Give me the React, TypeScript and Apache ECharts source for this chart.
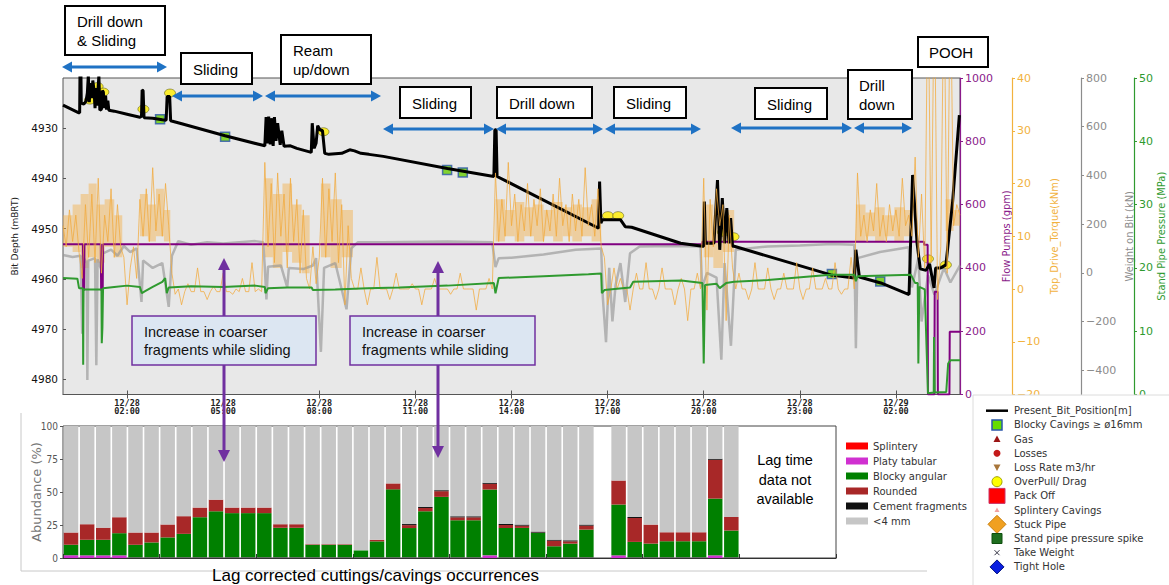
import React, { useEffect, useRef } from "react";
import * as echarts from "echarts";

// ---------- fonts ----------
const FONT_ARIAL = "'Liberation Sans', Arial, sans-serif";
const FONT_DV = "'DejaVu Sans', sans-serif";
const FONT_NARROW = "'Liberation Sans Narrow', 'DejaVu Sans Condensed', 'Liberation Sans', sans-serif";
const FONT_MONO = "'DejaVu Sans Mono', monospace";

// ---------- time axis (hours since 12/28 00:00) ----------
const timeMin = 0;
const timeMax = 28;
const timeTicks = [2, 5, 8, 11, 14, 17, 20, 23, 26];

const depthTicks = [4930, 4940, 4950, 4960, 4970, 4980];
const wobTicks = [-400, -200, 0, 200, 400, 600, 800];

// Present bit position [hour, depth mBRT]
const bitPosition: [number, number][] = [
  [0, 4925.4], [0.48, 4926.9], [0.52, 4926.9], [0.53, 4919], [0.56, 4919], [0.57, 4925.0],
  [0.65, 4925.2], [0.72, 4924.6], [0.76, 4923.0], [0.79, 4919.5], [0.82, 4924.8], [0.86, 4921.0],
  [0.9, 4924.0], [0.93, 4920.5], [0.97, 4922.5], [1.0, 4926.0], [1.03, 4922.0], [1.06, 4925.5],
  [1.1, 4921.5], [1.12, 4919.5], [1.15, 4926.4], [1.2, 4926.2], [1.23, 4922.5], [1.26, 4922.8],
  [1.29, 4926.0], [1.33, 4923.5], [1.36, 4926.3], [1.4, 4924.5], [1.43, 4926.4], [1.6, 4926.6],
  [2.0, 4927.2], [2.4, 4927.8], [2.45, 4927.6], [2.47, 4922.4], [2.5, 4922.5], [2.53, 4927.9],
  [2.8, 4928.0], [3.1, 4928.3], [3.22, 4928.4], [3.25, 4923.7], [3.33, 4923.7], [3.36, 4928.5],
  [3.65, 4929.0], [5.06, 4931.5], [6.3, 4933.5], [6.34, 4927.8], [6.38, 4933.0], [6.42, 4927.7],
  [6.47, 4933.2], [6.5, 4928.0], [6.56, 4933.5], [6.6, 4927.8], [6.65, 4932.5], [6.7, 4929.0],
  [6.78, 4933.3], [6.83, 4930.5], [6.9, 4933.6], [7.1, 4933.5], [7.3, 4934.0], [7.75, 4934.8],
  [7.78, 4929.0], [7.84, 4934.0], [7.9, 4933.0], [7.95, 4929.5], [8.02, 4930.3], [8.1, 4930.5],
  [8.17, 4935.0], [8.3, 4935.2], [8.7, 4935.0], [8.95, 4934.3], [9.1, 4934.5], [9.3, 4935.0],
  [9.55, 4935.2], [10.0, 4935.6], [12.0, 4938.0], [13.45, 4939.6], [13.48, 4930.3], [13.52, 4930.3],
  [13.55, 4939.6], [16.72, 4949.9], [16.75, 4940.6], [16.79, 4948.9], [16.84, 4948.2], [17.4, 4948.2],
  [17.55, 4949.6], [17.75, 4949.7], [19.28, 4952.9], [19.96, 4953.5], [20.0, 4953.5], [20.02, 4944.6],
  [20.05, 4952.9], [20.32, 4952.9], [20.43, 4940.3], [20.5, 4954.2], [20.58, 4943.9], [20.65, 4952.9],
  [20.72, 4945.9], [20.79, 4952.9], [20.84, 4947.9], [20.9, 4953.5], [20.95, 4953.5], [23.97, 4959.2],
  [24.7, 4959.8], [24.75, 4954.2], [24.86, 4959.6], [25.53, 4960.8], [26.41, 4963.1], [26.52, 4939.3],
  [26.66, 4952.9], [26.76, 4958.0], [26.94, 4958.3], [27.05, 4957.0], [27.19, 4961.8], [27.24, 4957.8],
  [27.4, 4957.8], [27.56, 4957.2], [27.77, 4944.6], [27.98, 4927.4],
];

// Events [hour, depth]
const overPull: [number, number][] = [
  [0.84, 4924.4], [1.08, 4921.7], [1.26, 4922.8], [2.51, 4926.2], [3.34, 4923.0], [8.13, 4930.7],
  [17.01, 4947.4], [17.33, 4947.4], [20.6, 4950.7], [20.93, 4951.6], [27.0, 4956.0], [27.56, 4957.2],
];
const blockyCavings: [number, number][] = [
  [3.03, 4928.2], [5.06, 4931.7], [11.99, 4938.3], [12.48, 4938.8], [24.0, 4959.0], [25.51, 4960.5],
];

// Flow pumps [hour, gpm]
const flowPumps: [number, number][] = [
  [0, 475], [0.62, 475], [0.63, 330], [0.66, 330], [0.67, 475], [1.18, 475], [1.19, 330], [1.24, 330],
  [1.25, 475], [19.95, 475], [19.96, 483], [26.87, 483], [26.88, 473], [26.99, 473], [27.0, 0],
  [27.2, 0], [27.21, 325], [27.3, 325], [27.31, 0], [27.67, 0], [27.68, 198], [28, 198],
];

// Top drive torque, kNm, sampled every 0.1 h from 12/28 00:00
const torqueStep = 0.1;
const torqueSamples: number[] = [
  12, 8, 15, 9, 14, 7, 2, 16, 6, 18, 5, 21, 3, 14, 9, 19, 6, 16, 8,
  6, -3, 4, 8, 2,
  17, 10, 19, 9, 23, 11, 18, 10, 20, 12,
  3, -1, 0, -3, -0.5, 1, -0.5, -0.5, 4, -0.5, -0.5, -2, -0.5, 0.5, -0.5, -0.5, 3, -0.5, -0.5, -1,
  0, -0.5, 2, -0.5, -0.5, 5, -0.5, 0, -0.5,
  24, 8, 20, 5, 22, 10, 18, 4, 21, 9, 17, 3, 15, 2, 0, 8, 1, 6, 21, 6, 19, 9, 22, 5, 16, -3, 12, 2,
  0, 0, 4, 0, -3, 0, 0, 6, 0, 0, 0, -2, 0, 3, 0, 0, 0, 0, 1, 0, 0, -3, 0, 0, 0, 2, 0, 0, 0, 0,
  -1, 0, 0, 3, 0, 0, 0, 0, -4, 0, 0, 0, 2, 0,
  22, 9, 17, 10, 24, 12, 18, 9, 16, 11, 20, 10, 17, 12, 19, 9, 15, 11, 18, 10, 21, 12, 16, 9, 18, 11,
  17, 10, 23, 12, 16, 10, 19, 8,
  6, -3, 0, 4, 0, 2, 0, 0, -4, 0, 3, 0, 0, 5, 0, 0, -2, 0, 4, 0, 0, 0, -3, 0, 2, 0, -6, 0, 0, 3, 0,
  21, -4, 17, 8, 19, 12, 16, -6, 14, 4,
  0, 3, 0, 0, -2, 0, 5, 0, 0, 0, 4, 0, -2, 0, 0, 3, 0, 0, 0, 5, 0, -2, 0, 0, 4, 0, 0, 0, 2, 0,
  0, 5, 0, -1, 0, 0, 6, 0,
  22, 10, 14, 9, 15, 11, 20, 10, 14, 9, 16, 11, 15, 10, 21, 12, 14, 10,
  25, 6, 18, 4,
  60, 5, 60, -2, 8, 60, 3, 60, 12, 16, 14,
];

// Dense part of the torque trace while rotating: [from h, to h, low kNm, high kNm]
const torqueBand: [number, number, number, number][] = [
  [0, 0.3, 8, 14], [0.3, 0.55, 7, 16], [0.55, 0.8, 4, 18], [0.8, 1.05, 6, 20], [1.05, 1.3, 5, 16],
  [1.3, 1.6, 8, 17], [1.6, 1.85, 6, 14],
  [2.4, 2.65, 10, 18], [2.65, 2.9, 9, 16], [2.9, 3.15, 10, 19], [3.15, 3.35, 9, 15],
  [6.3, 6.55, 6, 21], [6.55, 6.85, 4, 18], [6.85, 7.15, 7, 20], [7.15, 7.45, 5, 16], [7.45, 7.7, 3, 14],
  [8.05, 8.35, 6, 20], [8.35, 8.7, 4, 17], [8.7, 9.05, 6, 15],
  [13.5, 13.8, 9, 17], [13.8, 14.1, 10, 15], [14.1, 14.4, 9, 16.5], [14.4, 14.7, 10, 15.5],
  [14.7, 15.0, 9, 16], [15.0, 15.3, 10, 15], [15.3, 15.6, 9, 16.5], [15.6, 15.9, 10, 15.5],
  [15.9, 16.2, 9, 16], [16.2, 16.5, 10, 15.5], [16.5, 16.8, 9, 17],
  [20.0, 20.3, 6, 16], [20.3, 20.6, 4, 14], [20.6, 20.95, 7, 15],
  [24.75, 25.05, 9, 16], [25.05, 25.35, 10, 14.5], [25.35, 25.65, 9, 15.5], [25.65, 25.95, 10, 14],
  [25.95, 26.25, 9, 15.5], [26.25, 26.5, 10, 15],
  [27.55, 27.8, 11, 17], [27.8, 28, 12, 15],
];

// Weight on bit [hour, kN]
const weightOnBit: [number, number][] = [
  [0, 73], [0.3, 65], [0.55, 70], [0.6, -250], [0.65, 60], [0.74, 40], [0.76, -440], [0.79, 50],
  [1.0, 60], [1.04, -380], [1.08, 55], [1.2, 10], [1.25, 80], [1.5, 95], [1.7, 70], [1.9, 110],
  [2.1, 85], [2.3, 100], [2.45, -120], [2.5, 50], [2.8, 20], [3.1, 40], [3.3, -140], [3.4, 70],
  [3.6, 130], [4.0, 115], [4.5, 125], [5.0, 120], [5.5, 125], [6.0, 130], [6.25, 125], [6.3, 20],
  [6.35, -110], [6.4, 25], [6.8, 30], [7.0, -60], [7.05, 20], [7.5, 15], [7.8, 30], [7.9, 60],
  [8.05, -325], [8.15, 20], [8.5, 40], [8.85, -150], [9.0, 100], [9.2, 125], [10.0, 125],
  [12.0, 128], [13.4, 125], [13.5, 23], [13.6, 60], [14.0, 62], [15.0, 75], [16.0, 95], [16.8, 100],
  [16.85, -100], [16.95, -285], [17.05, 20], [17.15, -200], [17.25, -50], [17.4, 40], [17.55, -120],
  [17.7, 80], [18.0, 108], [19.0, 110], [19.9, 108], [19.95, -60], [20.1, 0], [20.4, -20],
  [20.55, -357], [20.65, 40], [20.85, -300], [21.0, 95], [22.0, 108], [23.0, 112], [24.0, 118],
  [24.7, 115], [24.75, -310], [24.8, 60], [25.5, 85], [26.4, 105], [26.5, -60], [26.7, 60],
  [26.8, -200], [27.0, -10], [27.2, -90], [27.5, 20], [27.7, -40], [28.0, 30],
];

// Stand pipe pressure [hour, MPa]
const standPipePressure: [number, number][] = [
  [0, 18.4], [0.45, 18.3], [0.5, 16.8], [0.62, 16.8], [0.63, 4.7], [0.64, 16.6], [1.0, 16.6],
  [1.2, 16.6], [1.21, 8.1], [1.23, 10.5], [1.25, 16.8], [1.6, 17.0], [2.0, 17.2], [2.4, 17.0],
  [2.46, 16.0], [2.55, 16.3], [2.8, 17.0], [3.1, 17.8], [3.19, 18.4], [3.24, 16.0], [3.3, 16.9],
  [4.0, 17.1], [5.0, 17.0], [6.0, 17.2], [6.3, 17.0], [6.32, 16.0], [6.4, 16.8], [7.0, 16.9],
  [7.76, 16.9], [7.8, 16.5], [8.5, 16.6], [9.5, 16.8], [10.5, 16.9], [12.0, 17.2], [13.45, 17.6],
  [13.5, 16.0], [13.6, 18.4], [15.0, 18.7], [16.4, 19.0], [16.8, 19.1], [16.82, 16.0], [16.9, 16.5],
  [17.7, 16.9], [17.8, 17.8], [19.3, 18.0], [19.96, 17.6], [20.0, 4.9], [20.04, 17.3], [20.4, 17.5],
  [20.5, 16.8], [20.7, 17.6], [20.95, 17.8], [22.0, 18.1], [23.96, 18.9], [24.7, 18.9], [24.75, 17.9],
  [24.8, 18.7], [26.47, 18.9], [26.6, 17.6], [26.68, 17.6], [26.7, 4.9], [26.73, 17.0], [26.9, 16.6],
  [27.0, 0.2], [27.18, 0.3], [27.19, 9.1], [27.21, 0.3], [27.57, 0.4], [27.63, 4.9], [27.7, 5.4],
  [28, 5.4],
];

// ---------- lag corrected cuttings / cavings (% per half-hour sample) ----------
const lagSlotCount = 48;
const platyTabular: (number | null)[] = [
  2, 2, 2, 2, 0.4, 0.4, 0.4, 0.4, 0.4, 0.4, 0.4, 0.4, 0.4, 0.4, 0.4, 0.4, 0.4, 0.4, 0.4, 0.4,
  0.4, 0.4, 0.4, 0.4, 0.4, 0.4, 2, 0.4, 0.4, 0.4, 0.4, 0.4, 0.4, null, 2, 0.4, 0.4, 0.4, 0.4, 0.4,
  2, 0.4,
];
const blockyAngular: (number | null)[] = [
  8, 11.8, 11.8, 16.8, 9.6, 11.4, 15.2, 17.9, 30.5, 35, 33.6, 33.6, 33.6, 22.5, 22.5, 9.6, 9.6, 9.6,
  5.4, 12.2, 51.6, 22.3, 35, 45.9, 28.2, 28.2, 49.9, 22.4, 22.4, 18.6, 8.5, 10.5, 21.1, null, 38.5,
  11.8, 10.5, 12.3, 12.3, 12.3, 43, 20.4,
];
const roundedFrag: (number | null)[] = [
  9.3, 11.8, 9.2, 12.1, 9.3, 7.5, 9.8, 13.4, 7.3, 8.8, 4.2, 4.2, 4.2, 2.7, 2.7, 0.5, 0.5, 0.5, 0,
  1.2, 4.5, 2.2, 2.5, 4.3, 2.2, 2.2, 4.3, 2.2, 1.7, 0.2, 4.2, 1.7, 3, null, 18.2, 18.1, 14.4, 6.8,
  6.8, 6.8, 29.4, 10.3,
];
const cementFrag: (number | null)[] = [
  0, 0, 0, 0, 0, 0, 0, 0, 0, 0, 0, 0, 0, 0, 0, 0, 0, 0, 0, 0, 0, 0.8, 0.8, 0.8, 0.8, 0.8, 0.8, 0.8,
  0.8, 0.8, 0.8, 0.8, 0.8, null, 0, 0.8, 0, 0, 0, 0, 0.8, 0,
];
const splinteryFrag: (number | null)[] = [
  0, 0, 0, 0, 0, 0, 0, 0, 0, 0, 0, 0, 0, 0, 0, 0, 0, 0, 0, 0, 0, 0, 0, 0, 0, 0, 0, 0, 0, 0, 0, 0, 0,
  null, 0, 0, 0, 0, 0, 0, 0, 0,
];

// ---------- colours ----------
const C_FLOW = "#8a1a8a";
const C_TORQUE = "#f2b23e";
const C_WOB = "#8c8c8c";
const C_SPP = "#2f9a2f";
const C_ARROW = "#1f72c4";
const C_CALLOUT = "#7030a0";

const fmtSigned = (v: number) => (v < 0 ? "\u2212" + Math.abs(v) : String(v));
const fmtTime = (v: number) => {
  const day = 28 + Math.floor(v / 24);
  const hh = Math.round(v % 24);
  return `12/${day}\n${String(hh).padStart(2, "0")}:00`;
};

function rightAxis(
  name: string,
  color: string,
  offset: number,
  min: number,
  max: number,
  nameGap: number,
  interval?: number,
  ticks?: number[]
) {
  const label: any = { color, fontSize: 11, fontFamily: FONT_DV, margin: 5, formatter: fmtSigned };
  const tick: any = { show: true, length: 3, lineStyle: { color } };
  if (ticks) {
    label.customValues = ticks;
    tick.customValues = ticks;
  }
  return {
    type: "value",
    gridIndex: 0,
    position: "right",
    offset,
    min,
    max,
    interval,
    name,
    nameLocation: "middle",
    nameGap,
    nameRotate: 90,
    nameMoveOverlap: false,
    nameTextStyle: { color, fontSize: 11, fontFamily: FONT_NARROW },
    axisLine: { show: true, onZero: false, lineStyle: { color, width: 1.2 } },
    axisTick: tick,
    axisLabel: label,
    splitLine: { show: false },
  };
}

// ---------- annotation helpers ----------
function doubleArrow(x1: number, x2: number, y: number) {
  const head = 10;
  const half = 5.5;
  return [
    { type: "line", z: 50, shape: { x1: x1 + head - 2, y1: y, x2: x2 - head + 2, y2: y }, style: { stroke: C_ARROW, lineWidth: 3 } },
    { type: "polygon", z: 50, shape: { points: [[x1, y], [x1 + head, y - half], [x1 + head, y + half]] }, style: { fill: C_ARROW } },
    { type: "polygon", z: 50, shape: { points: [[x2, y], [x2 - head, y - half], [x2 - head, y + half]] }, style: { fill: C_ARROW } },
  ];
}

function phaseBox(x: number, y: number, w: number, h: number, text: string, tx: number, ty: number) {
  return [
    { type: "rect", z: 50, shape: { x, y, width: w, height: h }, style: { fill: "#fff", stroke: "#000", lineWidth: 2 } },
    {
      type: "text",
      z: 51,
      x: tx,
      y: ty,
      style: { text, fill: "#000", font: `15px ${FONT_ARIAL}`, lineHeight: 19, align: "left", verticalAlign: "middle" },
    },
  ];
}

function vArrow(x: number, y1: number, tip: number) {
  const head = 12;
  const half = 6;
  const dir = tip > y1 ? 1 : -1;
  const base = tip - dir * head;
  return [
    { type: "line", z: 60, shape: { x1: x, y1, x2: x, y2: base + dir }, style: { stroke: C_CALLOUT, lineWidth: 3 } },
    { type: "polygon", z: 60, shape: { points: [[x, tip], [x - half, base], [x + half, base]] }, style: { fill: C_CALLOUT } },
  ];
}

function callout(x: number, y: number, w: number, h: number, tx: number, arrowX: number, upTip: number, downTip: number) {
  return [
    ...vArrow(arrowX, y, upTip),
    ...vArrow(arrowX, y + h, downTip),
    { type: "rect", z: 61, shape: { x, y, width: w, height: h }, style: { fill: "#dce6f2", stroke: C_CALLOUT, lineWidth: 1.5 } },
    {
      type: "text",
      z: 62,
      x: tx,
      y: y + h / 2 + 0.5,
      style: {
        text: "Increase in coarser\nfragments while sliding",
        fill: "#111",
        font: `14.5px ${FONT_ARIAL}`,
        lineHeight: 17.5,
        align: "left",
        verticalAlign: "middle",
      },
    },
  ];
}

// event legend entries drawn next to the depth chart
const eventLegendNames = [
  "Present_Bit_Position[m]",
  "Blocky Cavings \u2265 \u00f816mm",
  "Gas",
  "Losses",
  "Loss Rate m3/hr",
  "OverPull/ Drag",
  "Pack Off",
  "Splintery Cavings",
  "Stuck Pipe",
  "Stand pipe pressure spike",
  "Take Weight",
  "Tight Hole",
];

function eventMarker(i: number, cx: number, y: number): any[] {
  const diamond = (r: number) => [[cx, y - r], [cx + r, y], [cx, y + r], [cx - r, y]];
  switch (i) {
    case 0:
      return [{ type: "line", shape: { x1: cx - 11, y1: y, x2: cx + 11, y2: y }, style: { stroke: "#000", lineWidth: 2.5 } }];
    case 1:
      return [{ type: "rect", shape: { x: cx - 5, y: y - 5, width: 10, height: 10 }, style: { fill: "#66dd00", stroke: "#2a55aa", lineWidth: 1.5 } }];
    case 2:
      return [{ type: "polygon", shape: { points: [[cx, y - 3.5], [cx - 3.5, y + 3], [cx + 3.5, y + 3]] }, style: { fill: "#9b1414" } }];
    case 3:
      return [{ type: "circle", shape: { cx, cy: y, r: 3.5 }, style: { fill: "#c41a1a" } }];
    case 4:
      return [{ type: "polygon", shape: { points: [[cx - 3.5, y - 3], [cx + 3.5, y - 3], [cx, y + 3.5]] }, style: { fill: "#a8763a" } }];
    case 5:
      return [{ type: "circle", shape: { cx, cy: y, r: 5 }, style: { fill: "#ffff00", stroke: "#a0a000", lineWidth: 1 } }];
    case 6:
      return [{ type: "rect", shape: { x: cx - 8, y: y - 7.5, width: 16, height: 15 }, style: { fill: "#ff0000", stroke: "#cc3366", lineWidth: 1 } }];
    case 7:
      return [{ type: "polygon", shape: { points: [[cx, y - 2.5], [cx - 2.5, y + 2], [cx + 2.5, y + 2]] }, style: { fill: "#f0a0a0" } }];
    case 8:
      return [{ type: "polygon", shape: { points: diamond(9) }, style: { fill: "#f0a020", stroke: "#c88010", lineWidth: 1 } }];
    case 9:
      return [{ type: "rect", shape: { x: cx - 5, y: y - 5, width: 10, height: 10 }, style: { fill: "#1e6e1e", stroke: "#0e4e0e", lineWidth: 1 } }];
    case 10:
      return [
        { type: "line", shape: { x1: cx - 2.5, y1: y - 2.5, x2: cx + 2.5, y2: y + 2.5 }, style: { stroke: "#334", lineWidth: 1 } },
        { type: "line", shape: { x1: cx - 2.5, y1: y + 2.5, x2: cx + 2.5, y2: y - 2.5 }, style: { stroke: "#334", lineWidth: 1 } },
      ];
    default:
      return [{ type: "polygon", shape: { points: diamond(7) }, style: { fill: "#0a1ee0", stroke: "#001080", lineWidth: 1 } }];
  }
}

function eventLegend() {
  const items: any[] = [
    { type: "rect", z: 80, shape: { x: 973, y: 395, width: 200, height: 195 }, style: { fill: "#fff", stroke: "#dcdcdc", lineWidth: 1 } },
  ];
  eventLegendNames.forEach((name, i) => {
    const y = 410.7 + i * 14.2;
    eventMarker(i, 997, y).forEach((m) => items.push({ ...m, z: 81 }));
    items.push({
      type: "text",
      z: 81,
      x: 1014,
      y,
      style: { text: name, fill: "#333", font: `10px ${FONT_DV}`, align: "left", verticalAlign: "middle" },
    });
  });
  return items;
}

function buildOption() {
  const torque = torqueSamples.map((v, i) => [Math.round(i * torqueStep * 10) / 10, v]);
  const slots = Array.from({ length: lagSlotCount }, (_, i) => String(i));
  const fineFrag = platyTabular.map((p, i) =>
    p == null
      ? null
      : Math.max(
          0,
          100 - (p + (blockyAngular[i] || 0) + (roundedFrag[i] || 0) + (cementFrag[i] || 0) + (splinteryFrag[i] || 0))
        )
  );

  const barBase = {
    type: "bar",
    xAxisIndex: 2,
    yAxisIndex: 5,
    stack: "lag",
    barCategoryGap: "10%",
    silent: true,
  };

  return {
    animation: false,
    backgroundColor: "#fff",
    grid: [
      {
        left: 63, top: 78, width: 897, height: 316.5, show: true, backgroundColor: "#e8e8e8",
        borderColor: "#555", borderWidth: 1, outerBoundsMode: "none", containLabel: false,
      },
      {
        left: 63, top: 426, width: 773, height: 132, show: true, backgroundColor: "#fff",
        borderColor: "#444", borderWidth: 1, outerBoundsMode: "none", containLabel: false,
      },
    ],
    xAxis: [
      {
        type: "value",
        gridIndex: 0,
        min: timeMin,
        max: timeMax,
        position: "bottom",
        axisLine: { show: true, onZero: false, lineStyle: { color: "#555" } },
        axisTick: { show: true, inside: true, length: 4, customValues: timeTicks, lineStyle: { color: "#555" } },
        axisLabel: {
          customValues: timeTicks,
          formatter: fmtTime,
          fontSize: 8.5,
          lineHeight: 8.5,
          fontFamily: FONT_MONO,
          fontWeight: "bold",
          color: "#222",
          margin: 4,
        },
        splitLine: { show: false },
      },
      {
        type: "value",
        gridIndex: 0,
        min: timeMin,
        max: timeMax,
        position: "top",
        axisLine: { show: false },
        axisTick: { show: true, inside: true, length: 4, customValues: timeTicks, lineStyle: { color: "#555" } },
        axisLabel: { show: false },
        splitLine: { show: false },
      },
      {
        type: "category",
        gridIndex: 1,
        position: "top",
        data: slots,
        axisLine: { show: true, lineStyle: { color: "#333", width: 1.2 } },
        axisTick: { show: true, interval: 5, length: 4, lineStyle: { color: "#333" } },
        axisLabel: { show: false },
        splitLine: { show: false },
      },
    ],
    yAxis: [
      {
        type: "value",
        gridIndex: 0,
        inverse: true,
        min: 4920,
        max: 4983,
        name: "Bit Depth (mBRT)",
        nameLocation: "middle",
        nameGap: 44,
        nameMoveOverlap: false,
        nameTextStyle: { color: "#222", fontSize: 9, fontFamily: FONT_DV },
        axisLine: { show: false },
        axisTick: { show: true, inside: true, length: 3, customValues: depthTicks, lineStyle: { color: "#555" } },
        axisLabel: {
          customValues: depthTicks,
          formatter: (v: number) => String(v),
          color: "#111",
          fontSize: 10.5,
          fontFamily: FONT_DV,
          margin: 5,
        },
        splitLine: { show: false },
      },
      rightAxis("Flow Pumps (gpm)", C_FLOW, 0, 0, 1000, 41, 200),
      rightAxis("Top_Drive_Torque(kNm)", C_TORQUE, 52, -20, 40, 37, 10),
      rightAxis("Weight on Bit (kN)", C_WOB, 121, -500, 800, 43, undefined, wobTicks),
      rightAxis("Stand Pipe Pressure (MPa)", C_SPP, 174, 0, 50, 22, 10),
      {
        type: "value",
        gridIndex: 1,
        min: 0,
        max: 100,
        interval: 25,
        name: "Abundance (%)",
        nameLocation: "middle",
        nameGap: 20,
        nameMoveOverlap: false,
        nameTextStyle: { color: "#777", fontSize: 13, fontFamily: FONT_DV },
        axisLine: { show: false },
        axisTick: { show: true, length: 3, lineStyle: { color: "#555" } },
        axisLabel: { color: "#555", fontSize: 10, fontFamily: FONT_NARROW, margin: 5 },
        splitLine: { show: false },
      },
    ],
    legend: {
      orient: "vertical",
      left: 841,
      top: 435,
      icon: "rect",
      itemWidth: 22,
      itemHeight: 7,
      itemGap: 3,
      selectedMode: false,
      data: ["Splintery", "Platy tabular", "Blocky angular", "Rounded", "Cement fragments", "<4 mm"],
      textStyle: { fontSize: 10, fontFamily: FONT_DV, color: "#333", lineHeight: 12 },
    },
    series: [
      {
        name: "Weight on Bit",
        type: "line",
        xAxisIndex: 0,
        yAxisIndex: 3,
        data: weightOnBit,
        showSymbol: false,
        lineStyle: { color: "rgba(150,150,150,0.65)", width: 2.5 },
        silent: true,
      },
      {
        name: "Flow Pumps",
        type: "line",
        xAxisIndex: 0,
        yAxisIndex: 1,
        data: flowPumps,
        showSymbol: false,
        lineStyle: { color: "#800080", width: 2 },
        silent: true,
      },
      {
        name: "Present_Bit_Position[m]",
        type: "line",
        xAxisIndex: 0,
        yAxisIndex: 0,
        data: bitPosition,
        showSymbol: false,
        lineStyle: { color: "#000", width: 3 },
        silent: true,
      },
      {
        name: "Torque band",
        type: "custom",
        xAxisIndex: 0,
        yAxisIndex: 2,
        data: torqueBand,
        encode: { x: [0, 1], y: [2, 3] },
        clip: true,
        silent: true,
        renderItem: (params: any, api: any) => {
          const a = api.coord([api.value(0), api.value(3)]);
          const b = api.coord([api.value(1), api.value(2)]);
          return {
            type: "rect",
            shape: { x: a[0], y: a[1], width: b[0] - a[0], height: b[1] - a[1] },
            style: { fill: "rgba(243,176,70,0.45)" },
          };
        },
      },
      {
        name: "Top_Drive_Torque",
        type: "line",
        xAxisIndex: 0,
        yAxisIndex: 2,
        data: torque,
        showSymbol: false,
        lineStyle: { color: "rgba(242,170,60,0.75)", width: 1 },
        silent: true,
      },
      {
        name: "Stand Pipe Pressure",
        type: "line",
        xAxisIndex: 0,
        yAxisIndex: 4,
        data: standPipePressure,
        showSymbol: false,
        lineStyle: { color: C_SPP, width: 2 },
        silent: true,
      },
      {
        name: "OverPull/ Drag",
        type: "scatter",
        xAxisIndex: 0,
        yAxisIndex: 0,
        data: overPull,
        symbol: "circle",
        symbolSize: [11, 8],
        itemStyle: { color: "#ffee00", borderColor: "#6b6b20", borderWidth: 0.8 },
        silent: true,
      },
      {
        name: "Blocky Cavings",
        type: "scatter",
        xAxisIndex: 0,
        yAxisIndex: 0,
        data: blockyCavings,
        symbol: "rect",
        symbolSize: 9,
        itemStyle: { color: "#66cc00", borderColor: "#2a55aa", borderWidth: 1.5 },
        silent: true,
      },
      { ...barBase, name: "Platy tabular", data: platyTabular, itemStyle: { color: "#d030d0" } },
      { ...barBase, name: "Blocky angular", data: blockyAngular, itemStyle: { color: "#008000" } },
      { ...barBase, name: "Rounded", data: roundedFrag, itemStyle: { color: "#a82828" } },
      { ...barBase, name: "Splintery", data: splinteryFrag, itemStyle: { color: "#ff0000" } },
      { ...barBase, name: "Cement fragments", data: cementFrag, itemStyle: { color: "#111" } },
      { ...barBase, name: "<4 mm", data: fineFrag, itemStyle: { color: "#c6c6c6" } },
    ],
    graphic: [
      // faint frame around the cuttings panel
      { type: "polyline", z: 1, shape: { points: [[21, 413], [21, 571], [927, 571]] }, style: { stroke: "#c8c8c8", lineWidth: 1, fill: null } },
      // operation phases
      ...phaseBox(65, 6, 100, 49, "Drill down\n& Sliding", 77, 30.5),
      ...doubleArrow(62, 167, 67),
      ...phaseBox(181, 53, 71, 31, "Sliding", 193, 69),
      ...doubleArrow(172, 263, 96),
      ...phaseBox(281, 35, 90, 49, "Ream\nup/down", 293, 59.5),
      ...doubleArrow(265, 381, 96),
      ...phaseBox(400, 87, 71, 31, "Sliding", 412, 103),
      ...doubleArrow(383, 494, 129),
      ...phaseBox(497, 87, 95, 31, "Drill down", 509, 103),
      ...doubleArrow(496, 603, 129),
      ...phaseBox(614, 87, 72, 31, "Sliding", 626, 103),
      ...doubleArrow(605, 701, 129),
      ...phaseBox(755, 88, 72, 31, "Sliding", 767, 104),
      ...doubleArrow(731, 852, 128),
      ...phaseBox(848, 70, 64, 49, "Drill\ndown", 859, 94.5),
      ...doubleArrow(854, 912, 128),
      ...phaseBox(918, 37, 70, 30, "POOH", 929, 52),
      // callouts linking sliding intervals with the cuttings record
      ...callout(132, 316, 184, 49, 144, 224, 258, 462),
      ...callout(350, 316, 185, 49, 362, 438, 261, 458),
      {
        type: "text",
        z: 50,
        x: 785,
        y: 479.5,
        style: {
          text: "Lag time\ndata not\navailable",
          fill: "#000",
          font: `14.5px ${FONT_ARIAL}`,
          lineHeight: 19.5,
          align: "center",
          verticalAlign: "middle",
        },
      },
      {
        type: "text",
        z: 50,
        x: 212,
        y: 575,
        style: {
          text: "Lag corrected cuttings/cavings occurrences",
          fill: "#000",
          font: `17px ${FONT_ARIAL}`,
          align: "left",
          verticalAlign: "middle",
        },
      },
      ...eventLegend(),
    ],
  };
}

export default function App() {
  const ref = useRef<HTMLDivElement>(null);
  useEffect(() => {
    if (!ref.current) return;
    const chart = echarts.init(ref.current, null, { renderer: "svg" });
    chart.setOption(buildOption() as any);
    return () => chart.dispose();
  }, []);
  return (
    <div
      ref={ref}
      style={{ position: "fixed", left: 0, top: 0, width: 1169, height: 585, background: "#fff" }}
    />
  );
}
